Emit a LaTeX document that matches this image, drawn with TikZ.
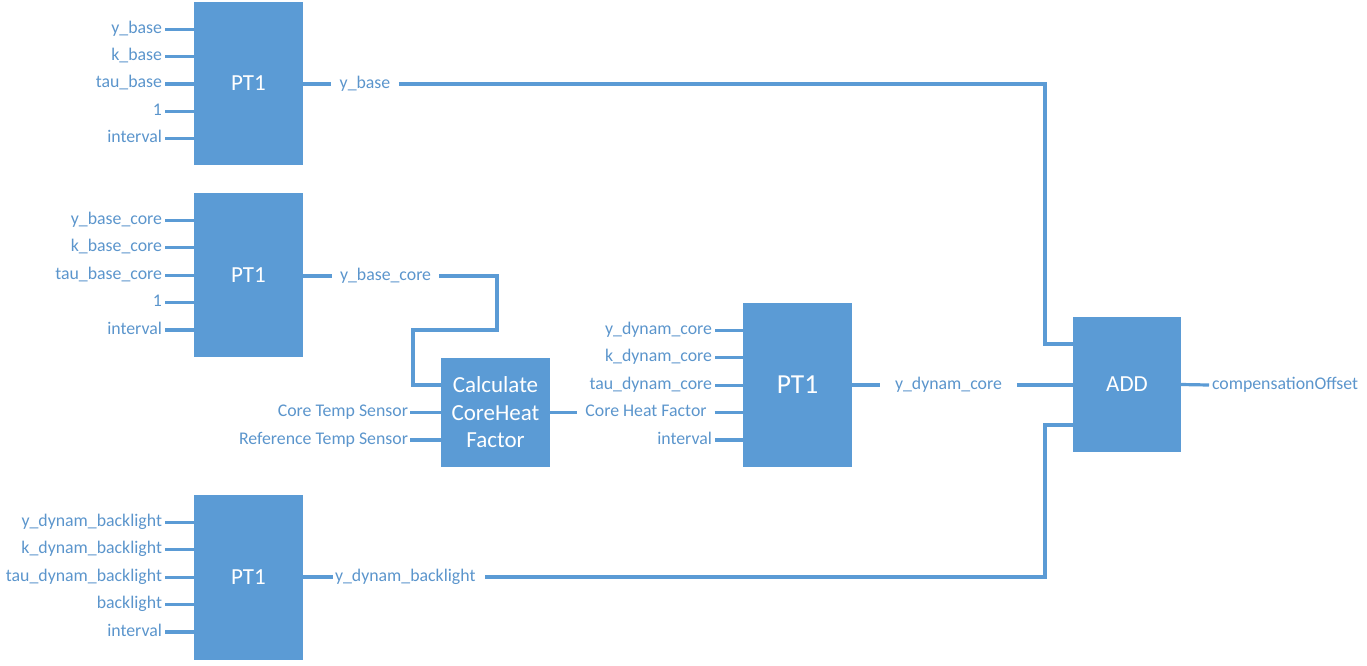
\documentclass[tikz,border=0pt]{standalone}
\usepackage{fontspec}
\setmainfont{Carlito}
\usetikzlibrary{calc}
\definecolor{blu}{HTML}{5B9BD5}
\definecolor{lab}{HTML}{5B95CC}
\begin{document}
\begin{tikzpicture}[x=1pt,y=-1pt,
  blk/.style={fill=blu, text=white, inner sep=0pt, outer sep=0pt, align=center, anchor=north west,
    font=\fontsize{23}{27.5}\selectfont},
  lbl/.style={text=lab, font=\fontsize{17.8}{20}\selectfont, inner ysep=0pt, outer sep=0pt,
    text height=11pt, text depth=3pt},
  inl/.style={lbl, anchor=east, inner xsep=3pt},
  wire/.style={draw=blu, line width=3.2pt}]
\useasboundingbox (0,0) rectangle (1367,665);

% blocks
\node[blk, minimum width=109pt, minimum height=163pt] (a) at (194,2) {PT1};
\node[blk, minimum width=109pt, minimum height=164pt] (b) at (194,193) {PT1};
\node[blk, minimum width=109pt, minimum height=165pt] (c) at (194,495) {PT1};
\node[blk, minimum width=109pt, minimum height=109pt] (calc) at (441,358) {Calculate\\CoreHeat\\Factor};
\node[blk, minimum width=109pt, minimum height=164pt, font=\fontsize{27.5}{30}\selectfont] (d) at (743,303) {PT1};
\node[blk, minimum width=108pt, minimum height=135pt] (add) at (1073,317) {ADD};

% inputs of block a
\foreach \t [count=\i] in {y\_base,k\_base,tau\_base,1,interval}{
  \node[inl] (ai\i) at (165,{2+27.3*\i}) {\t};
  \draw[wire] (ai\i.east) -- (ai\i.east -| a.west);
}
% inputs of block b
\foreach \t [count=\i] in {y\_base\_core,k\_base\_core,tau\_base\_core,1,interval}{
  \node[inl] (bi\i) at (165,{193+27.4*\i}) {\t};
  \draw[wire] (bi\i.east) -- (bi\i.east -| b.west);
}
% inputs of block c
\foreach \t [count=\i] in {y\_dynam\_backlight,k\_dynam\_backlight,tau\_dynam\_backlight,backlight,interval}{
  \node[inl] (ci\i) at (165,{495+27.4*\i}) {\t};
  \draw[wire] (ci\i.east) -- (ci\i.east -| c.west);
}
% inputs of block d
\foreach \t [count=\i] in {y\_dynam\_core,k\_dynam\_core,tau\_dynam\_core}{
  \node[inl] (di\i) at (715,{303+27.4*\i}) {\t};
  \draw[wire] (di\i.east) -- (di\i.east -| d.west);
}
\node[inl] (di5) at (715,440) {interval};
\draw[wire] (di5.east) -- (di5.east -| d.west);

% inputs of calc
\node[inl, inner xsep=2pt] (cts) at (410,412.5) {Core Temp Sensor};
\node[inl, inner xsep=2pt] (rts) at (410,440) {Reference Temp Sensor\ };
\draw[wire] (cts.east) -- (cts.east -| calc.west);
\draw[wire] (rts.east) -- (rts.east -| calc.west);

% calc -> d
\node[lbl, inner xsep=8pt] (chf) at (646,412.5) {Core Heat Factor};
\draw[wire] (calc.east |- chf) -- (chf.west);
\draw[wire] (chf.east) -- (chf.east -| d.west);

% outputs
\node[lbl, inner xsep=8.5pt] (yb) at (365,84) {y\_base};
\draw[wire] (a.east |- yb) -- (yb.west);
\draw[wire] (yb.east) -| (1045,344) -- ([yshift=40.5pt]add.west);

\node[lbl, inner xsep=8pt, anchor=west] (ybc) at (332,276) {y\_base\_core};
\draw[wire] (b.east |- ybc) -- (ybc.west);
\draw[wire] (ybc.east) -| (497,330) -| (413,385) -- ([yshift=27.5pt]calc.west);

\node[lbl, inner xsep=15pt, anchor=west] (ydc) at (880,385) {y\_dynam\_core};
\draw[wire] (d.east) -- (ydc.west);
\draw[wire] (ydc.east) -- (ydc.east -| add.west);

\node[lbl, inner xsep=2pt, anchor=west] (ydb) at (333,577) {y\_dynam\_backlight};
\draw[wire] (c.east |- ydb) -- (ydb.west);
\draw[wire, shorten <=8pt] (ydb.east) -| (1045,425) -- ([yshift=-40.5pt]add.west);

\node[lbl, inner xsep=3pt, anchor=west] (co) at (1209,385) {compensationOffset};
\draw[wire] (add.east) -- (co.west);
\end{tikzpicture}
\end{document}
